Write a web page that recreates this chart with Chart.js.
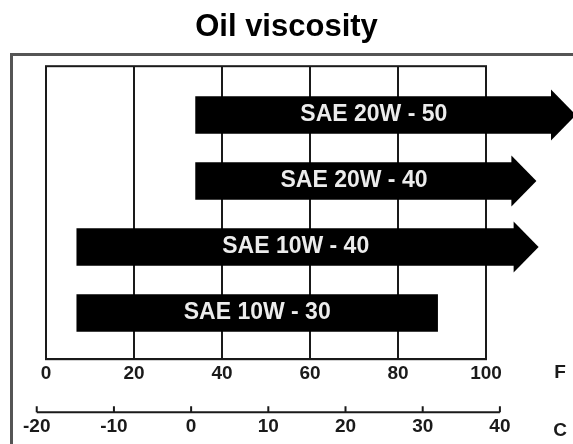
<!DOCTYPE html>
<html>
<head>
<meta charset="utf-8">
<script src="https://cdn.jsdelivr.net/npm/chart.js@4/dist/chart.umd.min.js"></script>
<style>
  html, body { margin: 0; padding: 0; background: #fff; }
  #wrap { position: relative; width: 573px; height: 444px; overflow: hidden; }
  #frame { position: absolute; left: 10px; top: 53px; width: 700px; height: 500px; border: 3px solid #555; }
  canvas { position: relative; }
</style>
</head>
<body>
<div id="wrap">
  <div id="frame"></div>
  <canvas id="chart" width="573" height="444"></canvas>
</div>
<script>
// oil grades, top to bottom, with the usable temperature span in deg F
const grades = ['SAE 20W - 50', 'SAE 20W - 40', 'SAE 10W - 40', 'SAE 10W - 30']
const lowF = [34, 34, 7, 7]
const highF = [115, 106, 106.5, 89]
const openEnded = [true, true, true, false]

const fahrenheitTicks = [0, 20, 40, 60, 80, 100]
const celsiusTicks = [-20, -10, 0, 10, 20, 30, 40]
// celsius values that line up with the left / right edge of the box
const celsiusMin = -18.8
const celsiusMax = 38.2
// row range shown in the box (rows sit at 0..3)
const rowMin = -0.74
const rowMax = 3.7

const ink = '#1a1a1a'
const tickFont = { family: '"Liberation Sans", Arial, sans-serif', size: 19, weight: 'bold' }

const boxPlugin = {
  id: 'box',
  beforeDatasetsDraw(chart) {
    const { ctx, chartArea: a } = chart
    ctx.save()
    ctx.strokeStyle = ink
    ctx.lineWidth = 2
    ctx.strokeRect(a.left, a.top, a.right - a.left, a.bottom - a.top)
    ctx.restore()
  }
}

const arrowPlugin = {
  id: 'arrows',
  afterDatasetsDraw(chart) {
    const { ctx } = chart
    const meta = chart.getDatasetMeta(0)
    ctx.save()
    meta.data.forEach((bar, i) => {
      const { x, y, base, height } = bar.getProps(['x', 'y', 'base', 'height'], true)
      if (openEnded[i]) {
        const half = height / 2 + 7
        ctx.fillStyle = '#000'
        ctx.beginPath()
        ctx.moveTo(x - 1, y - half)
        ctx.lineTo(x + 24, y)
        ctx.lineTo(x - 1, y + half)
        ctx.closePath()
        ctx.fill()
      }
      ctx.fillStyle = '#ececec'
      ctx.font = 'bold 23px "Liberation Sans", Arial, sans-serif'
      ctx.textAlign = 'center'
      ctx.textBaseline = 'middle'
      ctx.fillText(grades[i], (x + base) / 2, y)
    })
    ctx.restore()
  }
}

const celsiusPlugin = {
  id: 'celsius',
  afterDraw(chart) {
    const { ctx, chartArea: a } = chart
    const c = chart.scales.c
    const y = a.bottom + 53
    ctx.save()
    ctx.strokeStyle = ink
    ctx.lineWidth = 2
    ctx.beginPath()
    ctx.moveTo(c.getPixelForValue(celsiusTicks[0]), y)
    ctx.lineTo(c.getPixelForValue(celsiusTicks[celsiusTicks.length - 1]), y)
    celsiusTicks.forEach(v => {
      const px = c.getPixelForValue(v)
      ctx.moveTo(px, y)
      ctx.lineTo(px, y - 6)
    })
    ctx.stroke()
    ctx.fillStyle = ink
    ctx.font = 'bold 19px "Liberation Sans", Arial, sans-serif'
    ctx.textAlign = 'center'
    ctx.textBaseline = 'middle'
    celsiusTicks.forEach(v => ctx.fillText(String(v), c.getPixelForValue(v), y + 15))
    ctx.fillText('F', a.right + 74, a.bottom + 14)
    ctx.fillText('C', a.right + 74, y + 19)
    ctx.restore()
  }
}

// empty side axes that only reserve room, so the title stays centred on the page
const spacer = width => ({
  display: true,
  grid: { display: false },
  border: { display: false },
  ticks: { display: false },
  afterFit: scale => { scale.width = width }
})

new Chart(document.getElementById('chart'), {
  type: 'bar',
  data: {
    datasets: [{
      data: grades.map((g, i) => ({ x: [lowF[i], highF[i]], y: i })),
      backgroundColor: '#000',
      borderWidth: 0,
      barThickness: 37,
      clip: false
    }]
  },
  options: {
    indexAxis: 'y',
    responsive: false,
    animation: false,
    layout: { padding: { left: 0, right: 0, top: 0, bottom: 56 } },
    plugins: {
      legend: { display: false },
      tooltip: { enabled: false },
      title: {
        display: true,
        text: 'Oil viscosity',
        color: '#000',
        font: { family: '"Liberation Sans", Arial, sans-serif', size: 31, weight: 'bold' },
        padding: { top: 9, bottom: 20 }
      }
    },
    scales: {
      x: {
        type: 'linear',
        min: 0,
        max: 100,
        afterBuildTicks: scale => { scale.ticks = fahrenheitTicks.map(v => ({ value: v })) },
        grid: { color: ink, lineWidth: 2, drawTicks: false },
        border: { color: ink, width: 2 },
        ticks: { color: ink, font: tickFont, padding: 3 }
      },
      y: Object.assign(spacer(46), {
        type: 'linear',
        position: 'left',
        offset: false,
        reverse: true,
        min: rowMin,
        max: rowMax,
        afterBuildTicks: scale => { scale.min = rowMin; scale.max = rowMax }
      }),
      yr: Object.assign(spacer(87), { type: 'linear', axis: 'y', position: 'right' }),
      c: { type: 'linear', axis: 'x', position: 'bottom', display: false, min: celsiusMin, max: celsiusMax }
    }
  },
  plugins: [boxPlugin, arrowPlugin, celsiusPlugin]
})
</script>
</body>
</html>
